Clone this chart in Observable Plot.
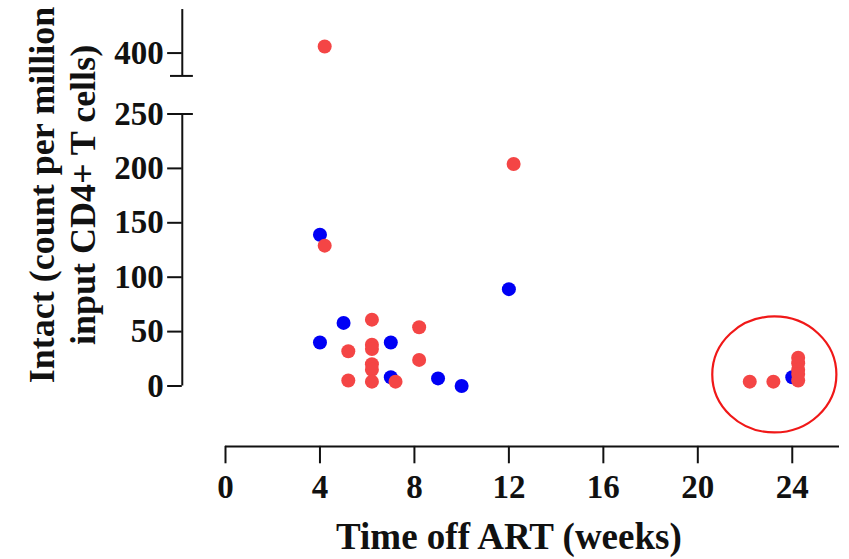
<!DOCTYPE html>
<html>
<head>
<meta charset="utf-8">
<script src="https://cdn.jsdelivr.net/npm/d3@7"></script>
<script src="https://cdn.jsdelivr.net/npm/@observablehq/plot@0.6"></script>
<style>
  html, body { margin: 0; padding: 0; background: #fff; }
  #chart svg { display: block; }
</style>
</head>
<body>
<div id="chart"></div>
<script>
// ---- data ----
const blueWeeks  = [4, 4, 5, 7, 7, 9, 10, 12, 24];
const blueIntact = [139, 40, 58, 40, 8, 7, 0, 89, 8];

const redWeeks  = [4.2, 4.2, 5.2, 5.2, 6.2, 6.2, 6.2, 6.2, 6.2, 6.2, 7.2, 8.2, 8.2, 12.2, 22.2, 23.2, 24.25, 24.25, 24.25, 24.25, 24.25];
const redIntact = [406, 129, 32, 5, 61, 38, 34, 20, 15, 4, 4, 54, 24, 204, 4, 4, 26, 21, 15, 11, 5];

const xTicks = [0, 4, 8, 12, 16, 20, 24];
const yTicksLower = [0, 50, 100, 150, 200, 250];
const yTicksUpper = [400];
const yLowerExtent = [0, 250];
const yUpperExtent = [379, 440];
const circled = [{week: 23.24, intact: 10.6}];

const xLabel = "Time off ART (weeks)";
const yLabel = "Intact (count per million\ninput CD4+ T cells)";

// ---- broken y axis: values above the break are shifted down ----
const breakShift = 94;
const brk = v => (v > 300 ? v - breakShift : v);

const blue = blueWeeks.map((w, i) => ({week: w, intact: blueIntact[i]}));
const red = redWeeks.map((w, i) => ({week: w, intact: redIntact[i]}));

// layout constants (in data units of the scales below)
const yAxisAt = -1.83;   // horizontal position of the y axis line
const tickLeft = -2.45;
const capL = -2.33, capR = -1.36;
const xAxisAt = -55.5;   // vertical position of the x axis line
const xTickEnd = -71.5;
const xLabelAt = -93;
const xTitleAt = -139;

const ellipseSymbol = {
  draw(context, size) {
    const r = Math.sqrt(size / Math.PI);
    const rx = r * 1.07, ry = r, k = 0.5523;
    context.moveTo(rx, 0);
    context.bezierCurveTo(rx, k * ry, k * rx, ry, 0, ry);
    context.bezierCurveTo(-k * rx, ry, -rx, k * ry, -rx, 0);
    context.bezierCurveTo(-rx, -k * ry, -k * rx, -ry, 0, -ry);
    context.bezierCurveTo(k * rx, -ry, rx, -k * ry, rx, 0);
    context.closePath();
  }
};

const font = "'Liberation Serif', 'Times New Roman', serif";
const ink = "#111";

const chart = Plot.plot({
  width: 849,
  height: 559,
  marginTop: 0, marginRight: 0, marginBottom: 0, marginLeft: 0,
  style: {fontFamily: font, fontWeight: "bold", background: "#fff"},
  x: {domain: [0, 26], range: [225, 839], axis: null},
  y: {domain: [0, 250], range: [385.5, 113.5], axis: null},
  marks: [
    // y axis, lower segment
    Plot.ruleX([yAxisAt], {y1: yLowerExtent[0], y2: yLowerExtent[1], stroke: ink, strokeWidth: 2}),
    // y axis, upper segment
    Plot.ruleX([yAxisAt], {y1: brk(yUpperExtent[0]), y2: brk(yUpperExtent[1]), stroke: ink, strokeWidth: 2}),
    // break caps
    Plot.ruleY([yLowerExtent[1], yUpperExtent[0]], {y: brk, x1: capL, x2: capR, stroke: ink, strokeWidth: 2}),
    // y ticks
    Plot.ruleY([...yTicksLower, ...yTicksUpper], {y: brk, x1: tickLeft, x2: yAxisAt, stroke: ink, strokeWidth: 2}),
    Plot.text([...yTicksLower, ...yTicksUpper], {y: brk, x: tickLeft, text: d => String(d), textAnchor: "end", dx: -4, fontSize: 33, fill: ink}),
    // x axis
    Plot.ruleY([xAxisAt], {x1: 0, x2: 26, stroke: ink, strokeWidth: 2}),
    Plot.ruleX(xTicks, {y1: xAxisAt, y2: xTickEnd, stroke: ink, strokeWidth: 2}),
    Plot.text(xTicks, {x: d => d, y: xLabelAt, text: d => String(d), fontSize: 33, fill: ink}),
    Plot.text([xLabel], {x: 12, y: xTitleAt, text: d => d, fontSize: 37, fill: ink}),
    // y title
    Plot.text([yLabel], {frameAnchor: "left", text: d => d, rotate: -90, textAnchor: "middle", lineAnchor: "middle", dx: 61, dy: -85, fontSize: 36, lineHeight: 1.15, fill: ink}),
    // points
    Plot.dot(blue, {x: "week", y: d => brk(d.intact), r: 7, fill: "#0000f5"}),
    Plot.dot(red, {x: "week", y: d => brk(d.intact), r: 7, fill: "#f44545"}),
    // circled annotation
    Plot.dot(circled, {x: "week", y: "intact", r: 58, symbol: ellipseSymbol, fill: "none", stroke: "#f01818", strokeWidth: 2.2})
  ]
});

document.getElementById("chart").appendChild(chart);
</script>
</body>
</html>
